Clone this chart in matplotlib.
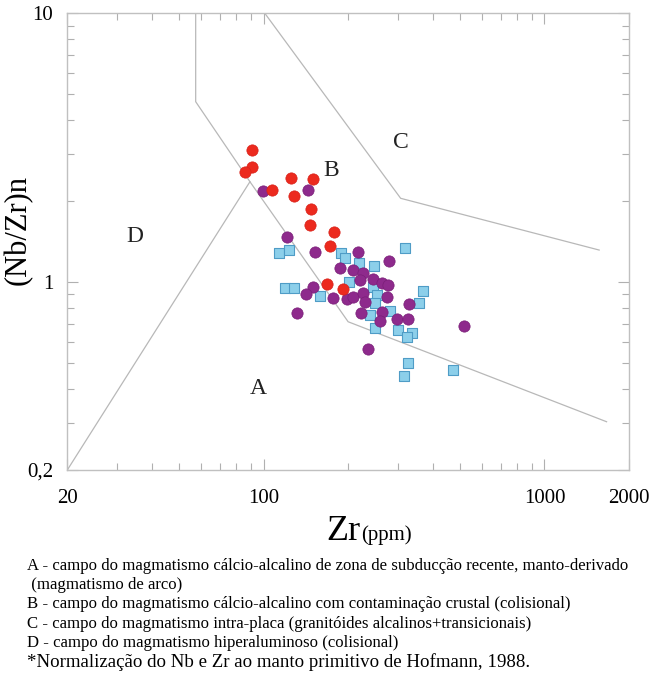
import matplotlib
matplotlib.use("Agg")
import matplotlib.pyplot as plt
from matplotlib.ticker import FixedLocator, NullFormatter

plt.rcParams['font.family'] = ['Liberation Serif', 'DejaVu Serif']
plt.rcParams['mathtext.fontset'] = 'custom'

# ---- data (Zr ppm, (Nb/Zr)n) ----
red_zr = [90.7, 91.1, 85.8, 125.2, 149.5, 106.8, 128.6, 147.1, 146.2, 178.5, 172.3, 168.5, 191.2]
red_nbzr = [3.10, 2.69, 2.57, 2.43, 2.41, 2.20, 2.09, 1.87, 1.63, 1.54, 1.36, 0.984, 0.94]

purple_zr = [99.2, 144.2, 120.8, 152.3, 217.2, 280.2, 187.0, 208.6, 226.4, 220.4,
             245.8, 263.3, 277.9, 150.2, 141.5, 177.0, 197.6, 208.6, 226.4, 229.5,
             274.2, 330.0, 131.1, 221.6, 263.3, 259.7, 297.7, 327.4, 518.0, 235.8]
purple_nbzr = [2.18, 2.20, 1.47, 1.29, 1.29, 1.20, 1.125, 1.11, 1.08, 1.02,
               1.03, 0.995, 0.976, 0.961, 0.903, 0.871, 0.863, 0.882, 0.908, 0.846,
               0.882, 0.829, 0.769, 0.765, 0.776, 0.718, 0.727, 0.727, 0.687, 0.562]

blue_zr = [113.7, 123.1, 188.6, 194.8, 219.0, 247.2, 318.7, 119.1, 128.3, 158.8,
           201.8, 244.6, 252.8, 249.2, 281.8, 239.2, 370.2, 358.2, 249.2, 301.6,
           336.6, 323.0, 327.4, 473.4, 316.8]
blue_nbzr = [1.28, 1.317, 1.28, 1.226, 1.18, 1.15, 1.34, 0.953, 0.948, 0.89,
             1.0, 0.961, 0.895, 0.834, 0.781, 0.754, 0.929, 0.838, 0.673, 0.663,
             0.648, 0.623, 0.499, 0.47, 0.447]

# field boundaries
line1_zr = [57.3, 57.3, 89.4, 200, 1664]
line1_nbzr = [10, 4.69, 2.363, 0.712, 0.3024]
line2_zr = [101, 307.6, 1566]
line2_nbzr = [10, 2.05, 1.316]
line3_zr = [20, 89.4]
line3_nbzr = [0.2, 2.363]

field_labels = ['A', 'B', 'C', 'D']
field_zr = [95.5, 173.7, 308, 34.8]
field_nbzr = [0.4036, 2.612, 3.293, 1.484]

xtick_vals = [20, 100, 1000, 2000]
xtick_labels = ['20', '100', '1000', '2000']
ytick_vals = [0.2, 1, 10]
ytick_labels = ['0,2', '1', '10']

legend_lines = [
    "A - campo do magmatismo cálcio-alcalino de zona de subducção recente, manto-derivado",
    " (magmatismo de arco)",
    "B - campo do magmatismo cálcio-alcalino com contaminação crustal (colisional)",
    "C - campo do magmatismo intra-placa (granitóides alcalinos+transicionais)",
    "D - campo do magmatismo hiperaluminoso (colisional)",
]
note = "*Normalização do Nb e Zr ao manto primitivo de Hofmann, 1988."

SERIF = ['Liberation Serif', 'DejaVu Serif']

W, H = 653, 675
fig = plt.figure(figsize=(W / 100, H / 100), dpi=100)
ax = fig.add_axes([67.3 / W, 1 - 470 / H, (629 - 67.3) / W, (470 - 13.3) / H])
ax.set_xscale('log')
ax.set_yscale('log')
ax.set_xlim(20, 2000)
ax.set_ylim(0.2, 10)

gray = '#b8b8b8'
for xs, ys in [(line1_zr, line1_nbzr), (line2_zr, line2_nbzr), (line3_zr, line3_nbzr)]:
    ax.plot(xs, ys, color=gray, lw=0.9, zorder=1)

ax.scatter(blue_zr, blue_nbzr, marker='s', s=55, facecolor='#8ccfea',
           edgecolor='#4f9cc6', linewidths=0.8, zorder=3)
ax.scatter(purple_zr, purple_nbzr, marker='o', s=66, facecolor='#8e2a8c',
           edgecolor='#7a1f78', linewidths=0.5, zorder=4)
ax.scatter(red_zr, red_nbzr, marker='o', s=66, facecolor='#ec2a1e',
           edgecolor='#d8221a', linewidths=0.5, zorder=5)

for lab, xv, yv in zip(field_labels, field_zr, field_nbzr):
    ax.text(xv, yv, lab, fontsize=17, ha='center', va='center', color='#222222',
            family=SERIF)

for sp in ax.spines.values():
    sp.set_color('#c0c0c0')
    sp.set_linewidth(1.0)

ax.xaxis.set_major_locator(FixedLocator(xtick_vals))
ax.set_xticklabels(xtick_labels, family=SERIF, fontsize=15)
ax.xaxis.set_minor_locator(FixedLocator([30, 40, 50, 60, 70, 80, 90,
                                         200, 300, 400, 500, 600, 700, 800, 900]))
ax.xaxis.set_minor_formatter(NullFormatter())
ax.yaxis.set_major_locator(FixedLocator(ytick_vals))
ax.set_yticklabels(ytick_labels, family=SERIF, fontsize=15)
ax.yaxis.set_minor_locator(FixedLocator([0.3, 0.4, 0.5, 0.6, 0.7, 0.8, 0.9,
                                         2, 3, 4, 5, 6, 7, 8, 9]))
ax.yaxis.set_minor_formatter(NullFormatter())

ax.tick_params(which='both', direction='in', top=True, right=True, color='#b0b0b0',
               width=0.8)
ax.tick_params(which='major', length=8)
ax.tick_params(which='minor', length=5)
ax.tick_params(axis='x', which='major', pad=14)
ax.tick_params(axis='y', which='major', pad=10)

# axis titles
fig.text(18 / W, 1 - 230 / H, '(Nb/Zr)n', rotation=90, fontsize=22,
         ha='center', va='center', family=SERIF)
fig.text(360 / W, 1 - 540 / H, 'Zr', fontsize=26, ha='right', va='baseline',
         family=SERIF)
fig.text(361 / W, 1 - 540 / H, '(ppm)', fontsize=15, ha='left', va='baseline',
         family=SERIF)

ys_leg = [566, 585, 604, 624, 643]
for t, yv in zip(legend_lines, ys_leg):
    fig.text(27 / W, 1 - yv / H, t, fontsize=12.1, ha='left', va='center',
             family=SERIF)
fig.text(27 / W, 1 - 662 / H, note, fontsize=13.6, ha='left', va='center',
         family=SERIF)

fig.savefig('out.png', dpi=100)
